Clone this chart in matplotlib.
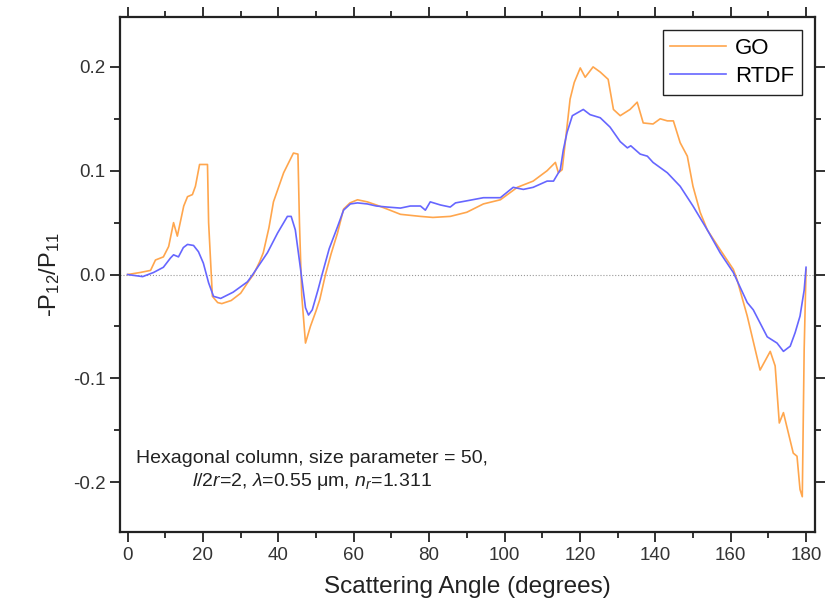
import matplotlib
matplotlib.use("Agg")
import matplotlib.pyplot as plt
from matplotlib.ticker import MultipleLocator, FormatStrFormatter

plt.rcParams['font.family'] = ['Liberation Sans', 'DejaVu Sans']
plt.rcParams['mathtext.fontset'] = 'custom'
plt.rcParams['mathtext.rm'] = 'Liberation Sans'
plt.rcParams['mathtext.it'] = 'Liberation Sans:italic'

# GO curve
go_angle = [0, 3.4, 6.1, 7.4, 9.5, 10.9, 12.2, 13.2, 14.9, 15.9, 17.2, 18.0, 19.1, 21.2,
            21.5, 22.5, 23.9, 25, 27.5, 30, 32, 33.4, 35, 36, 37.5, 38.7, 41.4, 44.0,
            45.2, 45.6, 46.2, 47.2, 48.5, 50, 51, 52.5, 54, 55.7, 57.3, 59, 61, 63.6,
            66, 68.9, 72.4, 77.7, 81, 85.6, 90, 94.4, 98.9, 103.4, 107.6, 111.3, 113.5,
            114.3, 115.3, 116.6, 117.4, 118.5, 120.1, 121.4, 123.5, 125.4, 127.5, 128.9,
            130.7, 133.3, 135.2, 136.8, 139.4, 141.3, 143.2, 144.8, 146.6, 148.5, 150,
            151.9, 153.8, 157.2, 160.7, 161.7, 164.4, 167.8, 170.5, 171.8, 172.9, 174,
            176.6, 177.6, 178.4, 179, 179.5, 180]
go_val = [0, 0.002, 0.004, 0.014, 0.017, 0.027, 0.05, 0.037, 0.066, 0.075, 0.077, 0.085,
          0.106, 0.106, 0.05, -0.021, -0.027, -0.028, -0.025, -0.018, -0.007, 0.0, 0.012,
          0.021, 0.045, 0.07, 0.098, 0.117, 0.116, 0.05, -0.02, -0.066, -0.05, -0.035,
          -0.024, 0.0, 0.02, 0.04, 0.063, 0.069, 0.072, 0.07, 0.067, 0.063, 0.058, 0.056,
          0.055, 0.056, 0.06, 0.068, 0.072, 0.084, 0.09, 0.1, 0.108, 0.098, 0.101, 0.143,
          0.169, 0.185, 0.199, 0.19, 0.2, 0.195, 0.188, 0.159, 0.153, 0.159, 0.166, 0.146,
          0.145, 0.15, 0.148, 0.148, 0.127, 0.114, 0.085, 0.06, 0.043, 0.024, 0.005,
          -0.005, -0.04, -0.092, -0.074, -0.088, -0.143, -0.133, -0.172, -0.175, -0.207,
          -0.214, -0.072, 0.005]

# RTDF curve
rtdf_angle = [0, 4, 6.9, 9.5, 11.4, 12.2, 13.5, 14.8, 15.9, 17.5, 18.8, 20.1, 21.5, 22.8,
              24.7, 28, 31.8, 33.2, 37.1, 39.8, 42.4, 43.4, 44.5, 45.9, 47.2, 48, 49, 50.5,
              51.6, 53.5, 55.7, 57.3, 59.1, 61, 63.6, 66, 68.9, 72.4, 75, 77.7, 79, 80.3,
              83, 85.6, 87, 90, 94.4, 98.9, 102.3, 105, 107.6, 111.3, 113, 114.8, 115.6,
              116.6, 118, 120.9, 122.7, 125.4, 128, 130.7, 132.6, 133.5, 136, 137.9, 139.4,
              143.2, 146.6, 150, 153.8, 157.2, 160.7, 164.4, 166, 169.7, 172.3, 174, 175.8,
              177.1, 178.4, 179.5, 180]
rtdf_val = [0, -0.002, 0.002, 0.007, 0.016, 0.019, 0.017, 0.026, 0.029, 0.028, 0.022,
            0.011, -0.008, -0.021, -0.023, -0.017, -0.007, 0, 0.021, 0.04, 0.056, 0.056,
            0.043, 0.005, -0.032, -0.039, -0.034, -0.015, 0, 0.025, 0.046, 0.062, 0.068,
            0.069, 0.068, 0.066, 0.065, 0.064, 0.066, 0.066, 0.062, 0.07, 0.067, 0.065,
            0.069, 0.071, 0.074, 0.074, 0.084, 0.082, 0.084, 0.09, 0.09, 0.101, 0.12, 0.137,
            0.153, 0.159, 0.154, 0.151, 0.142, 0.128, 0.122, 0.124, 0.116, 0.114, 0.108,
            0.098, 0.085, 0.066, 0.043, 0.021, 0.002, -0.027, -0.034, -0.06, -0.066, -0.074,
            -0.069, -0.056, -0.04, -0.015, 0.007]

fig = plt.figure(figsize=(8.25, 6.09), dpi=100)
ax = fig.add_axes([0.1455, 0.1264, 0.8425, 0.8456])

ax.axhline(0, color='#999999', linestyle=':', linewidth=0.8)
ax.plot(go_angle, go_val, color='#FFA64D', linewidth=1.2, label='GO')
ax.plot(rtdf_angle, rtdf_val, color='#6666FF', linewidth=1.2, label='RTDF')

ax.set_xlim(-2, 182.4)
ax.set_ylim(-0.248, 0.248)
ax.xaxis.set_major_locator(MultipleLocator(20))
ax.xaxis.set_minor_locator(MultipleLocator(10))
ax.yaxis.set_major_locator(MultipleLocator(0.1))
ax.yaxis.set_minor_locator(MultipleLocator(0.05))
ax.yaxis.set_major_formatter(FormatStrFormatter('%.1f'))

ax.tick_params(which='both', direction='out', top=True, right=True, width=1.3,
               labelsize=13.5, colors='#222222')
ax.tick_params(which='major', length=7)
ax.tick_params(which='minor', length=4)
ax.tick_params(labelcolor='#333333')
for s in ax.spines.values():
    s.set_linewidth(1.6)
    s.set_color('#222222')

ax.set_xlabel('Scattering Angle (degrees)', fontsize=17.5, color='#222222', labelpad=9)
ax.set_ylabel('-P$_{12}$/P$_{11}$', fontsize=17, color='#222222', labelpad=8)

leg = ax.legend(loc='upper right', fontsize=16, handlelength=2.5, fancybox=False,
                edgecolor='#222222', framealpha=1, borderaxespad=0.6,
                handletextpad=0.4, borderpad=0.35, labelspacing=0.3)
leg.get_frame().set_linewidth(1.0)

ax.text(48.9, -0.209,
        'Hexagonal column, size parameter = 50,\n'
        r'$\it{l}$/2$\it{r}$=2, $\it{\lambda}$=0.55 μm, $\it{n}_r$=1.311',
        ha='center', va='bottom', multialignment='center', fontsize=14, color='#222222',
        linespacing=1.25)

fig.savefig('out.png', dpi=100)
